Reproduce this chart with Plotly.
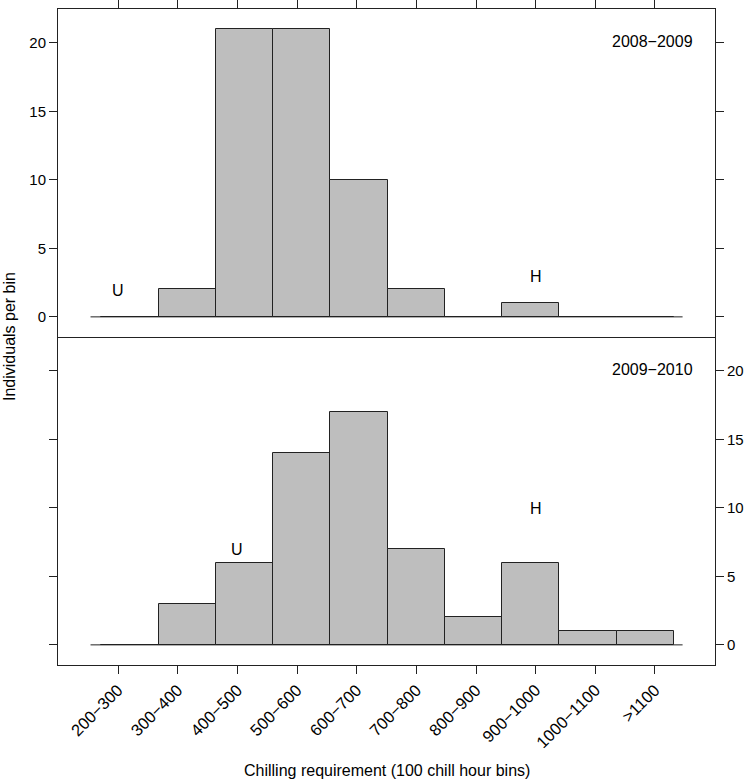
import numpy as np
import plotly.graph_objects as go

# ---- data ----
bins = ["200−300", "300−400", "400−500", "500−600", "600−700",
        "700−800", "800−900", "900−1000", "1000−1100", ">1100"]
counts_0809 = [0, 2, 21, 21, 10, 2, 0, 1, 0, 0]
counts_0910 = [0, 3, 6, 14, 17, 7, 2, 6, 1, 1]
seasons = ["2008−2009", "2009−2010"]
marks_0809_labels = ["U", "H"]
marks_0809_bins = ["200−300", "900−1000"]
marks_0809_y = [2, 3]
marks_0910_labels = ["U", "H"]
marks_0910_bins = ["400−500", "900−1000"]
marks_0910_y = [7, 10]
y_ticks = [0, 5, 10, 15, 20]

# ---- layout helpers ----
FONT = "Liberation Sans, Arial, Helvetica, sans-serif"
BAR_FILL = "#BEBEBE"
LINE = "#222222"
idx = np.arange(len(bins))
bar_x = idx + 0.5
tick_x = 0.29 + 1.042 * idx          # tick/label positions (lattice style offset)
tick_of = dict(zip(bins, tick_x))
XR = [-0.758, 10.716]
YR = [-1.47, 22.47]

fig = go.Figure()
for counts, xa, ya in [(counts_0809, "x", "y"), (counts_0910, "x2", "y2")]:
    fig.add_trace(go.Bar(
        x=bar_x, y=counts, width=1.0, xaxis=xa, yaxis=ya,
        marker=dict(color=BAR_FILL, line=dict(color=LINE, width=1)),
        showlegend=False, hoverinfo="skip"))

# baselines
for yr in ["y", "y2"]:
    xr = "x" if yr == "y" else "x2"
    fig.add_shape(type="line", xref=xr, yref=yr, x0=-0.19, x1=10.15, y0=0, y1=0,
                  line=dict(color=LINE, width=1), layer="above")

ann = []
# season labels
for s, xr, yr in [(seasons[0], "x", "y"), (seasons[1], "x2", "y2")]:
    ann.append(dict(text=s, xref=xr + " domain", yref=yr, x=0.970, y=20,
                    xanchor="right", yanchor="middle", showarrow=False, yshift=1,
                    font=dict(family=FONT, size=16, color="black")))
# U / H markers
for labs, bs, ys, xr, yr in [(marks_0809_labels, marks_0809_bins, marks_0809_y, "x", "y"),
                             (marks_0910_labels, marks_0910_bins, marks_0910_y, "x2", "y2")]:
    for l, b, yv in zip(labs, bs, ys):
        ann.append(dict(text=l, xref=xr, yref=yr, x=tick_of[b], y=yv,
                        xanchor="center", yanchor="middle", showarrow=False, yshift=-1,
                        font=dict(family=FONT, size=16, color="black")))

W, H = 746, 779
L, R, T, B = 58, 31, 9, 114
pw, ph = W - L - R, H - T - B

# axis titles (pixel targets converted to paper coords)
ann.append(dict(text="Individuals per bin", xref="paper", yref="paper",
                x=(9 - L) / pw, y=0.5, textangle=-90, xanchor="center", yanchor="middle",
                showarrow=False, font=dict(family=FONT, size=16, color="black")))
ann.append(dict(text="Chilling requirement (100 chill hour bins)", xref="paper", yref="paper",
                x=0.5, y=-(770 - 665) / ph, xanchor="center", yanchor="middle",
                showarrow=False, font=dict(family=FONT, size=16, color="black")))

axis_common = dict(showgrid=False, zeroline=False, showline=True, linecolor=LINE,
                   linewidth=1, ticks="outside", ticklen=8, tickcolor=LINE, tickwidth=1,
                   automargin=False,
                   tickfont=dict(family=FONT, size=15, color="black"))

fig.update_layout(
    width=W, height=H,
    margin=dict(l=L, r=R, t=T, b=B, autoexpand=False),
    paper_bgcolor="white", plot_bgcolor="white",
    bargap=0, annotations=ann,
    xaxis=dict(axis_common, domain=[0, 1], anchor="y", range=XR, side="top",
               tickvals=tick_x, showticklabels=False, mirror=True),
    xaxis2=dict(axis_common, domain=[0, 1], anchor="y2", range=XR, side="bottom",
                tickvals=tick_x, ticktext=bins, tickangle=-45, mirror=False,
                tickfont=dict(family=FONT, size=16.5, color="black")),
    yaxis=dict(axis_common, domain=[0.5, 1], anchor="x", range=YR,
               tickvals=y_ticks, side="left", mirror="ticks"),
    yaxis2=dict(axis_common, domain=[0, 0.5], anchor="x2", range=YR,
                tickvals=y_ticks, side="right", mirror="ticks"),
)

# remove the browser's default 8px body margin so the figure sits at (0, 0)
fig.write_html("out.html", config={"displayModeBar": False},
               post_script="document.body.style.margin='0';document.body.style.overflow='hidden';")
